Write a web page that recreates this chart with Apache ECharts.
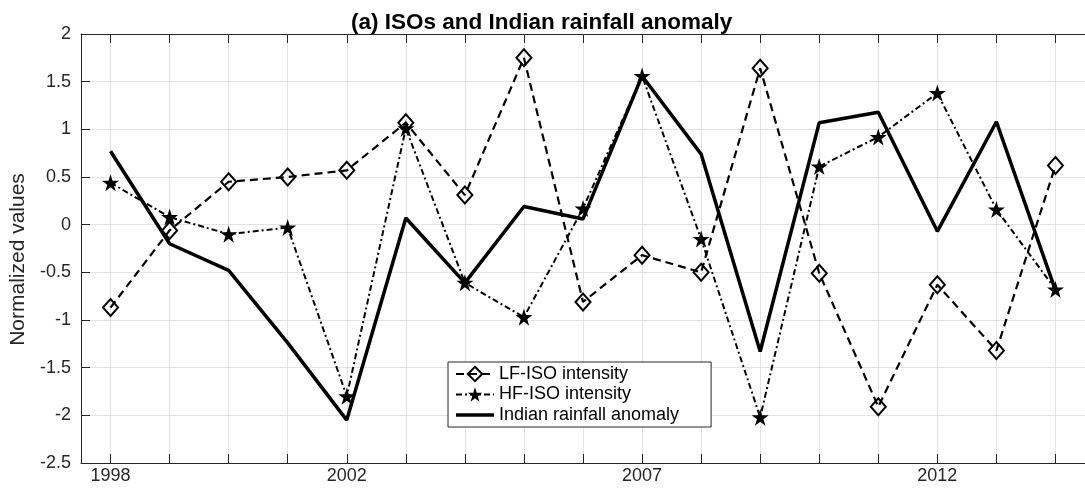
<!DOCTYPE html>
<html>
<head>
<meta charset="utf-8">
<script src="https://cdn.jsdelivr.net/npm/echarts@6/dist/echarts.min.js"></script>
<style>
html,body{margin:0;padding:0;background:#fff;}
#chart{width:1085px;height:488px;}
</style>
</head>
<body>
<div id="chart"></div>
<script>
var years = [1998,1999,2000,2001,2002,2003,2004,2005,2006,2007,2008,2009,2010,2011,2012,2013,2014];
var lfIso = [-0.87,-0.06,0.45,0.50,0.57,1.07,0.31,1.75,-0.81,-0.32,-0.50,1.64,-0.51,-1.91,-0.63,-1.32,0.62];
var hfIso = [0.44,0.08,-0.10,-0.03,-1.80,1.01,-0.61,-0.97,0.17,1.56,-0.15,-2.02,0.61,0.92,1.38,0.16,-0.68];
var rainfall = [0.77,-0.20,-0.48,-1.24,-2.05,0.07,-0.61,0.19,0.06,1.56,0.74,-1.33,1.07,1.18,-0.07,1.08,-0.69];
var xLabelYears = [1998,2002,2007,2012];
var seriesNames = ['LF-ISO intensity','HF-ISO intensity','Indian rainfall anomaly'];

function pairs(vals){ return years.map(function(y,i){ return [y, vals[i]]; }); }

var starPath = 'path://M50,0 L61.2,34.5 L97.6,34.5 L68.2,55.9 L79.4,90.5 L50,69.1 L20.6,90.5 L31.8,55.9 L2.4,34.5 L38.8,34.5 Z';
var solidLineIcon = 'path://M0,7.3 L38,7.3 L38,10.7 L0,10.7 Z M0,0 L0.01,0 L0.01,0.01 Z M38,18 L37.99,18 L37.99,17.99 Z';
var axisColor = '#262626';

var chart = echarts.init(document.getElementById('chart'), null, {renderer:'canvas'});
chart.setOption({
  animation:false,
  backgroundColor:'#fff',
  textStyle:{fontFamily:'Liberation Sans, Arial, sans-serif'},
  title:{
    text:'(a) ISOs and Indian rainfall anomaly',
    left:346, top:6,
    textStyle:{fontSize:22.5,fontWeight:'bold',color:'#000',fontFamily:'Liberation Sans, Arial, sans-serif'}
  },
  grid:{left:81, top:34, right:-11, bottom:25, containLabel:false},
  legend:{
    orient:'vertical',
    left:448, top:362,
    data:[
      {name:seriesNames[0]},
      {name:seriesNames[1]},
      {name:seriesNames[2], icon:solidLineIcon}
    ],
    backgroundColor:'#fff',
    borderColor:axisColor, borderWidth:1,
    padding:[3,32,3,7],
    itemWidth:38, itemHeight:18, itemGap:2.5,
    textStyle:{fontSize:18,lineHeight:18,color:'#000'}
  },
  xAxis:[{
    type:'value', min:1997.5, max:2014.5,
    axisLine:{show:true,onZero:false,lineStyle:{color:axisColor,width:1}},
    axisTick:{show:true,inside:true,length:9,customValues:years,lineStyle:{color:axisColor}},
    axisLabel:{show:true,customValues:xLabelYears,fontSize:18,color:axisColor,margin:4,
      formatter:function(v){return String(v);}},
    splitLine:{show:true,lineStyle:{color:'#e3e3e3',width:1}}
  },{
    type:'value', min:1997.5, max:2014.5, position:'top',
    axisLine:{show:true,onZero:false,lineStyle:{color:axisColor,width:1}},
    axisTick:{show:true,inside:true,length:9,customValues:years,lineStyle:{color:axisColor}},
    axisLabel:{show:false},
    splitLine:{show:false}
  }],
  yAxis:{
    type:'value', min:-2.5, max:2, interval:0.5,
    name:'Normalized values', nameLocation:'middle', nameGap:41,
    nameTextStyle:{fontSize:21,color:axisColor,padding:[0,22,0,0]},
    axisLine:{show:true,onZero:false,lineStyle:{color:axisColor,width:1}},
    axisTick:{show:true,inside:true,length:9,lineStyle:{color:axisColor}},
    axisLabel:{fontSize:18,color:axisColor,margin:10},
    splitLine:{show:true,lineStyle:{color:'#e3e3e3',width:1}}
  },
  series:[{
    name:seriesNames[0], type:'line', data:pairs(lfIso),
    symbol:'diamond', symbolSize:[15,17],
    lineStyle:{color:'#000',width:2.2,type:[8,5]},
    itemStyle:{color:'rgba(255,255,255,0)',borderColor:'#000',borderWidth:2},
    z:3
  },{
    name:seriesNames[1], type:'line', data:pairs(hfIso),
    symbol:starPath, symbolSize:17,
    lineStyle:{color:'#000',width:2,type:[6,3,2,3]},
    itemStyle:{color:'#000',borderWidth:0},
    z:4
  },{
    name:seriesNames[2], type:'line', data:pairs(rainfall),
    symbol:'none', showSymbol:false,
    lineStyle:{color:'#000',width:3.5,type:'solid'},
    itemStyle:{color:'#000'},
    z:2
  }]
});
</script>
</body>
</html>
